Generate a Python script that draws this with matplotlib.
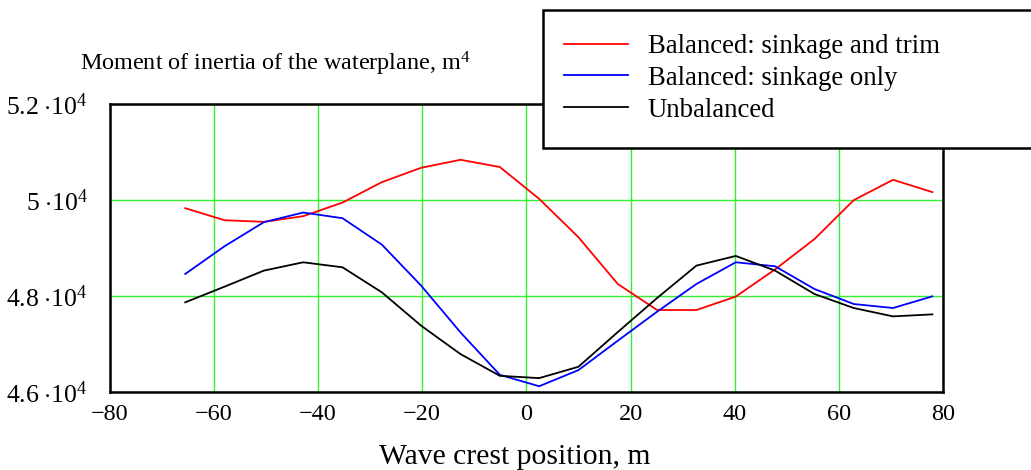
import matplotlib
matplotlib.use("Agg")
import matplotlib.pyplot as plt
from matplotlib.patches import Rectangle

plt.rcParams["font.family"] = ["Liberation Serif", "DejaVu Serif"]
plt.rcParams["mathtext.fontset"] = "custom"
plt.rcParams["mathtext.rm"] = "Liberation Serif"
plt.rcParams["mathtext.it"] = "Liberation Serif:italic"

# wave crest position, m
crest = [-65.5, -57.95, -50.4, -42.85, -35.3, -27.75, -20.2, -12.65, -5.1, 2.45,
         10.0, 17.55, 25.1, 32.65, 40.2, 47.75, 55.3, 62.85, 70.4, 77.95]

# moment of inertia of the waterplane, m^4
trim_sink = [49833, 49583, 49549, 49667, 49950, 50375, 50674, 50840, 50690, 50028,
             49229, 48257, 47715, 47715, 47995, 48560, 49190, 50000, 50424, 50167]
sink_only = [48465, 49042, 49542, 49743, 49625, 49076, 48222, 47250, 46368, 46130,
             46466, 47077, 47681, 48257, 48708, 48625, 48153, 47840, 47757, 48000]
unbalanced = [47875, 48201, 48535, 48708, 48604, 48083, 47389, 46799, 46347, 46299,
              46535, 47257, 47965, 48639, 48840, 48535, 48049, 47757, 47583, 47625]

labels = ["Balanced: sinkage and trim", "Balanced: sinkage only", "Unbalanced"]
colors = ["#ff0000", "#0000ff", "#000000"]

xticks = [-80, -60, -40, -20, 0, 20, 40, 60, 80]
yticks = [46000, 48000, 50000, 52000]
ytick_labels = [r"$\mathrm{4.6\;{\cdot}10^{4}}$", r"$\mathrm{4.8\;{\cdot}10^{4}}$",
                r"$\mathrm{5\;{\cdot}10^{4}}$", r"$\mathrm{5.2\;{\cdot}10^{4}}$"]

fig = plt.figure(figsize=(10.31, 4.70), dpi=100)
ax = fig.add_axes([0.1064, 0.1649, 0.8083, 0.6138])

for ys, lab, c in zip([trim_sink, sink_only, unbalanced], labels, colors):
    ax.plot(crest, ys, color=c, lw=1.3, label=lab)

ax.set_xlim(-80, 80)
ax.set_ylim(46000, 52000)
ax.set_xticks(xticks)
ax.set_xticklabels([f"{t}".replace("-", "\u2212") for t in xticks], fontsize=17.5)
ax.set_yticks(yticks)
ax.set_yticklabels(ytick_labels, fontsize=18.5)
ax.tick_params(axis="x", length=0, pad=8)
ax.tick_params(axis="y", length=0, pad=16)
ax.grid(True, color="#33ee33", lw=1.0)
ax.set_axisbelow(True)
for s in ax.spines.values():
    s.set_linewidth(1.8)
    s.set_color("black")

fig.text(515 / 1031, 1 - 464 / 470, "Wave crest position, m", fontsize=21.3,
         ha="center", va="baseline")
fig.text(80 / 1031, 1 - 70 / 470, "Moment of inertia of the waterplane, m$^{4}$",
         fontsize=17.4, ha="left", va="baseline")

# legend box runs off the right edge of the picture
fig.patches.append(Rectangle((543 / 1031, 1 - 148 / 470), 0.6, 138 / 470,
                             transform=fig.transFigure, facecolor="white",
                             edgecolor="black", lw=1.8, zorder=5))
leg = fig.legend(loc="upper left", bbox_to_anchor=(540 / 1031, 1 - 10 / 470),
                 frameon=False, fontsize=19.3, handlelength=2.4,
                 handletextpad=0.72, labelspacing=0.25)
leg.set_zorder(6)

fig.savefig("out.png", dpi=100)
